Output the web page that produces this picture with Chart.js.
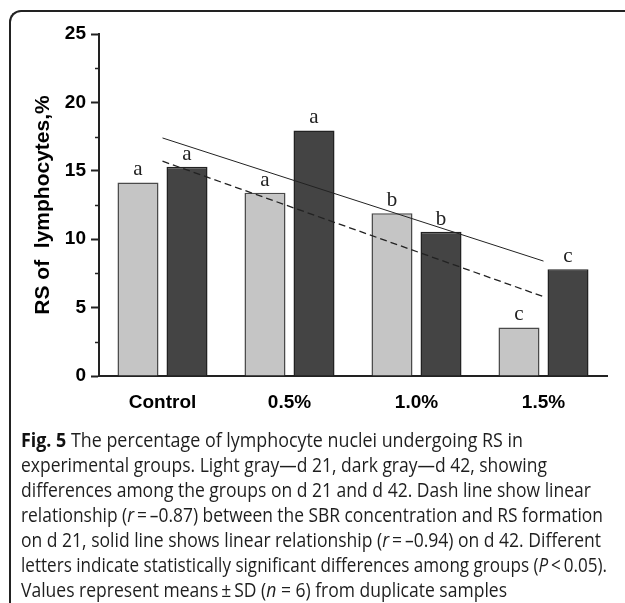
<!DOCTYPE html>
<html>
<head>
<meta charset="utf-8">
<script src="https://cdn.jsdelivr.net/npm/chart.js@4/dist/chart.umd.min.js"></script>
<style>
  html, body { margin: 0; padding: 0; background: #fff; width: 625px; height: 603px; overflow: hidden; }
  #wrap { position: relative; width: 625px; height: 603px; }
  #chart { position: absolute; left: 0; top: 0; }
  #frame {
    position: absolute; left: 9px; top: 10px; width: 700px; height: 700px;
    border-top: 2px solid #222; border-left: 2px solid #222;
    border-top-left-radius: 12px; box-sizing: border-box;
  }
  .cap {
    position: absolute; left: 21px; white-space: nowrap;
    font-family: "Open Sans", "Noto Sans", sans-serif; font-size: 19.5px; line-height: 25px;
    color: #1e1e1e; transform-origin: 0 50%;
  }
  .cap b { color: #111; }
</style>
</head>
<body>
<div id="wrap">
  <canvas id="chart" width="625" height="410"></canvas>
  <div id="frame"></div>
  <div id="caption"></div>
</div>
<script>
// values
const categories = ['Control', '0.5%', '1.0%', '1.5%'];
const day21 = [14.15, 13.4, 11.9, 3.55];
const day42 = [15.3, 17.95, 10.55, 7.8];
const day21Letters = ['a', 'a', 'b', 'c'];
const day42Letters = ['a', 'a', 'b', 'c'];
// regression lines, ends only
const trend21 = [15.7, null, null, 5.8];
const trend42 = [17.4, null, null, 8.4];
const yMin = 0;
const yMax = 25;
const yStep = 5;
const yMinorStep = 2.5;

const captionLines = [
  '<b>Fig. 5</b> The percentage of lymphocyte nuclei undergoing RS in',
  'experimental groups. Light gray—d 21, dark gray—d 42, showing',
  'differences among the groups on d 21 and d 42. Dash line show linear',
  'relationship (<i>r</i>&thinsp;=&thinsp;–0.87) between the SBR concentration and RS formation',
  'on d 21, solid line shows linear relationship (<i>r</i>&thinsp;=&thinsp;–0.94) on d 42. Different',
  'letters indicate statistically significant differences among groups (<i>P</i>&thinsp;&lt;&thinsp;0.05).',
  'Values represent means&thinsp;±&thinsp;SD (<i>n</i> = 6) from duplicate samples'
];
const captionWidths = [502, 526, 570, 582, 580, 586, 486];

const tickFont = { family: "'Liberation Sans', Arial, sans-serif", size: 19, weight: 'bold' };

const letterPlugin = {
  id: 'letters',
  afterDatasetsDraw(chart) {
    const ctx = chart.ctx;
    ctx.save();
    ctx.font = "21px 'Liberation Serif', 'Times New Roman', serif";
    ctx.fillStyle = '#222';
    ctx.textAlign = 'center';
    ctx.textBaseline = 'alphabetic';
    [day21Letters, day42Letters].forEach((letters, d) => {
      chart.getDatasetMeta(d).data.forEach((bar, i) => {
        ctx.fillText(letters[i], bar.x, bar.y - 7);
      });
    });
    ctx.restore();
  }
};

const minorTicks = {
  id: 'minorTicks',
  afterDraw(chart) {
    const y = chart.scales.y;
    const ctx = chart.ctx;
    ctx.save();
    ctx.strokeStyle = '#222';
    ctx.lineWidth = 1.5;
    for (let v = yMin + yMinorStep; v < yMax; v += yStep) {
      const py = Math.round(y.getPixelForValue(v)) + 0.5;
      ctx.beginPath();
      ctx.moveTo(y.right - 4, py);
      ctx.lineTo(y.right, py);
      ctx.stroke();
    }
    ctx.restore();
  }
};

new Chart(document.getElementById('chart'), {
  type: 'bar',
  data: {
    labels: categories,
    datasets: [
      {
        label: 'd 21',
        data: day21,
        backgroundColor: '#c5c5c5',
        borderColor: '#4a4a4a',
        borderWidth: 1.5,
        categoryPercentage: 0.772,
        barPercentage: 0.837,
        order: 2
      },
      {
        label: 'd 42',
        data: day42,
        backgroundColor: '#444444',
        borderColor: '#222',
        borderWidth: 1.5,
        categoryPercentage: 0.772,
        barPercentage: 0.837,
        order: 2
      },
      {
        type: 'line',
        label: 'trend d 21',
        data: trend21,
        borderColor: '#222',
        borderWidth: 1.3,
        borderDash: [7, 4],
        pointRadius: 0,
        spanGaps: true,
        fill: false,
        order: 1
      },
      {
        type: 'line',
        label: 'trend d 42',
        data: trend42,
        borderColor: '#222',
        borderWidth: 1,
        pointRadius: 0,
        spanGaps: true,
        fill: false,
        order: 1
      }
    ]
  },
  options: {
    responsive: false,
    animation: false,
    devicePixelRatio: 1,
    layout: { padding: { top: 34, right: 18, left: 0, bottom: 0 } },
    plugins: {
      legend: { display: false },
      tooltip: { enabled: false }
    },
    scales: {
      x: {
        grid: { display: false },
        border: { display: true, color: '#222', width: 2 },
        ticks: { color: '#000', font: tickFont, padding: 7 },
        afterFit(scale) { scale.height = 34; }
      },
      y: {
        min: yMin,
        max: yMax,
        border: { display: true, color: '#222', width: 2 },
        grid: { drawOnChartArea: false, drawTicks: true, tickLength: 8, tickWidth: 2, tickColor: '#222' },
        ticks: { stepSize: yStep, color: '#000', font: tickFont, padding: 5 },
        title: {
          display: true,
          text: 'RS of  lymphocytes,%',
          color: '#000',
          font: { family: "'Liberation Sans', Arial, sans-serif", size: 21, weight: 'bold' },
          padding: { top: 31, bottom: 0 }
        },
        afterFit(scale) { scale.width = 99; }
      }
    }
  },
  plugins: [letterPlugin, minorTicks]
});

// caption, one line per div, each stretched to the width it has in the figure
const cap = document.getElementById('caption');
const firstLineCenter = 439;
const lineStep = 25;
captionLines.forEach((html, i) => {
  const div = document.createElement('div');
  div.className = 'cap';
  div.style.top = (firstLineCenter - 12.5 + i * lineStep) + 'px';
  div.innerHTML = html;
  cap.appendChild(div);
});
function fitCaption() {
  cap.querySelectorAll('.cap').forEach((div, i) => {
    div.style.transform = 'none';
    const w = div.getBoundingClientRect().width;
    div.style.transform = 'scaleX(' + (captionWidths[i] / w) + ')';
  });
}
fitCaption();
if (document.fonts && document.fonts.ready) document.fonts.ready.then(fitCaption);
</script>
</body>
</html>
